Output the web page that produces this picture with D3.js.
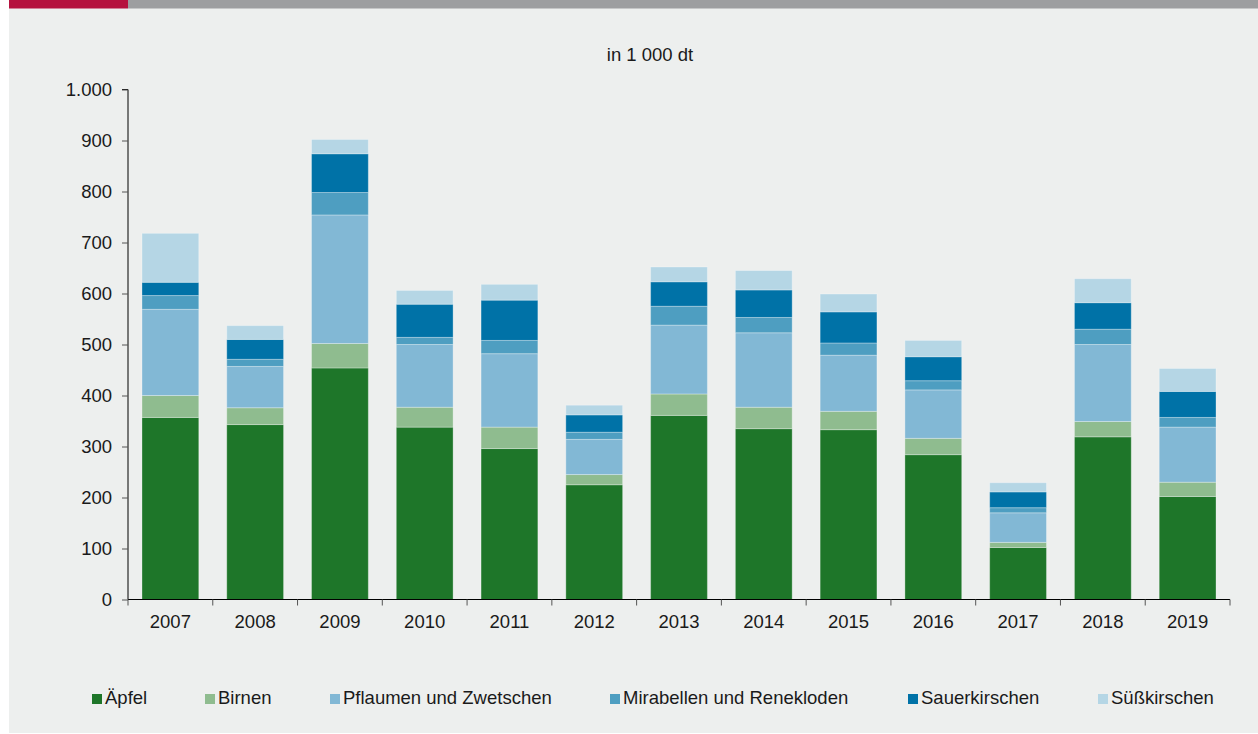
<!DOCTYPE html>
<html>
<head>
<meta charset="utf-8">
<script src="https://cdn.jsdelivr.net/npm/d3@7"></script>
<style>
  html, body { margin: 0; padding: 0; background: #ffffff; }
  svg { display: block; }
  text { font-family: "Liberation Sans", Arial, sans-serif; fill: #1a1a1a; }
</style>
</head>
<body>
<svg id="chart" width="1258" height="734"></svg>
<script>
// ---- Data (in 1 000 dt) ----
const years = ["2007","2008","2009","2010","2011","2012","2013","2014","2015","2016","2017","2018","2019"];
const seriesNames = ["Äpfel","Birnen","Pflaumen und Zwetschen","Mirabellen und Renekloden","Sauerkirschen","Süßkirschen"];
const aepfel     = [357, 343, 454, 338, 296, 225, 361, 335, 333, 284, 102, 319, 202];
const birnen     = [ 43,  33,  48,  39,  42,  20,  42,  42,  36,  32,  10,  30,  28];
const pflaumen   = [169,  81, 252, 123, 144,  69, 135, 146, 110,  95,  58, 151, 108];
const mirabellen = [ 27,  14,  44,  14,  26,  14,  37,  30,  24,  18,  10,  30,  19];
const sauerkirschen = [ 26,  39,  76,  65,  79,  34,  48,  54,  61,  47,  31,  52,  51];
const suesskirschen = [ 96,  27,  28,  27,  31,  19,  29,  38,  35,  32,  18,  47,  45];
const yTicks = [0, 100, 200, 300, 400, 500, 600, 700, 800, 900, 1000];
const colors = ["#1e7629", "#8fbc8f", "#82b8d5", "#4e9ec1", "#0072a7", "#b5d6e5"];

const seriesValues = [aepfel, birnen, pflaumen, mirabellen, sauerkirschen, suesskirschen];
const table = years.map((yr, i) => {
  const row = { year: yr };
  seriesNames.forEach((s, k) => { row[s] = seriesValues[k][i]; });
  return row;
});

const svg = d3.select("#chart");

// background panel and top bar
svg.append("rect").attr("x", 9).attr("y", 0).attr("width", 1249).attr("height", 733).attr("fill", "#edefee");
svg.append("rect").attr("x", 9).attr("y", 0).attr("width", 119).attr("height", 8.5).attr("fill", "#b5123e");
svg.append("rect").attr("x", 128).attr("y", 0).attr("width", 1130).attr("height", 8.5).attr("fill", "#9d9ea0");

const plotLeft = 128, plotRight = 1230, plotTop = 89.5, plotBottom = 599.5;

const x = d3.scaleBand().domain(years).range([plotLeft, plotRight]).paddingInner(0.33).paddingOuter(0.165);
const y = d3.scaleLinear().domain([0, 1000]).range([plotBottom, plotTop]);

const locale = d3.formatLocale({ decimal: ",", thousands: ".", grouping: [3], currency: ["", " €"] });
const fmt = locale.format(",d");

// title
svg.append("text").attr("x", 650).attr("y", 61).attr("text-anchor", "middle")
  .style("font-size", "18.5px").text("in 1 000 dt");

// stacked bars
const stacked = d3.stack().keys(seriesNames)(table);
svg.append("g").selectAll("g").data(stacked).join("g")
  .attr("fill", (d, i) => colors[i])
  .selectAll("rect").data(d => d).join("rect")
  .attr("x", d => x(d.data.year))
  .attr("width", x.bandwidth())
  .attr("y", d => y(d[1]))
  .attr("height", d => y(d[0]) - y(d[1]))
  .attr("stroke", "rgba(255,255,255,0.3)")
  .attr("stroke-width", 1);

// y axis
const yAxis = d3.axisLeft(y).tickValues(yTicks).tickSize(6).tickPadding(10).tickFormat(fmt);
const gy = svg.append("g").attr("transform", `translate(${plotLeft},0)`).call(yAxis);
gy.select(".domain").attr("stroke", "#000").attr("d", `M-6,${plotTop}H0V${plotBottom}`);
gy.selectAll(".tick line").attr("stroke", "#555");
gy.selectAll(".tick text").style("font-size", "18.5px").attr("fill", "#1a1a1a")
  .style("font-family", "'Liberation Sans', Arial, sans-serif");

// x axis
const gx = svg.append("g").attr("transform", `translate(0,${plotBottom})`);
gx.append("line").attr("x1", plotLeft).attr("x2", plotRight).attr("y1", 0).attr("y2", 0).attr("stroke", "#000");
const boundaries = d3.range(years.length + 1).map(i => plotLeft + i * x.step());
gx.selectAll("line.tk").data(boundaries).join("line").attr("class", "tk")
  .attr("x1", d => d).attr("x2", d => d).attr("y1", 0).attr("y2", 6).attr("stroke", "#555");
gx.selectAll("text").data(years).join("text")
  .attr("x", d => x(d) + x.bandwidth() / 2).attr("y", 28)
  .attr("text-anchor", "middle").style("font-size", "18.5px").text(d => d);

// legend
const legendX = [92, 205, 330, 610, 908, 1098];
const lg = svg.append("g");
seriesNames.forEach((s, i) => {
  lg.append("rect").attr("x", legendX[i]).attr("y", 694).attr("width", 10).attr("height", 10).attr("fill", colors[i]);
  lg.append("text").attr("x", legendX[i] + 13).attr("y", 704).style("font-size", "18.5px").text(s);
});
</script>
</body>
</html>
